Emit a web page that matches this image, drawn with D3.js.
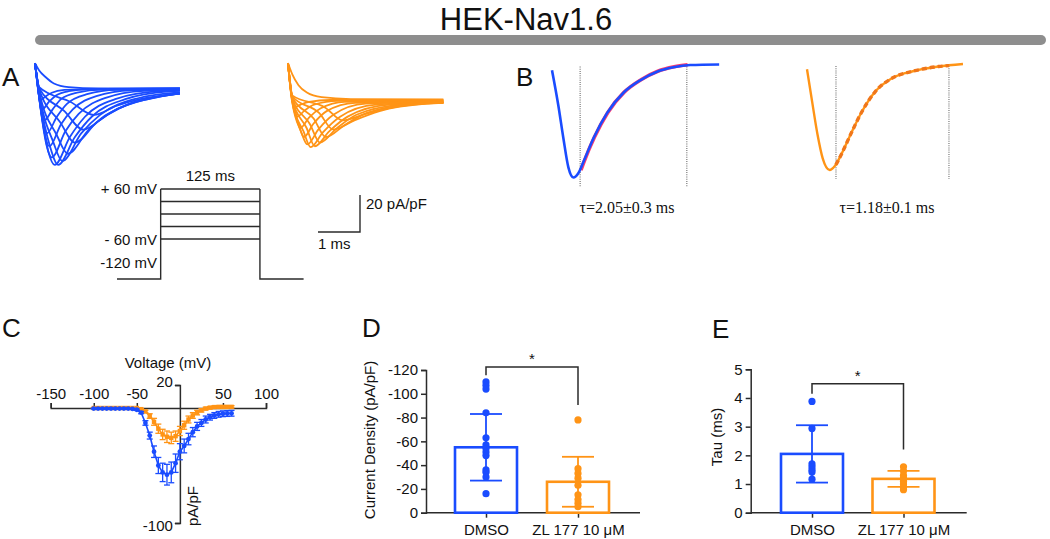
<!DOCTYPE html>
<html>
<head>
<meta charset="utf-8">
<script src="https://cdn.jsdelivr.net/npm/d3@7/dist/d3.min.js"></script>
<style>
  body { margin: 0; background: #fff; }
  text { font-family: Arial, "Liberation Sans", sans-serif; fill: #111; }
</style>
</head>
<body>
<svg id="fig" width="1050" height="539"></svg>
<script>
var BLUE = '#1a4cff',
    ORANGE = '#ff9416',
    INK = '#2b2b2b';

// ---- A: current traces, [time (ms), current (pA/pF)] ----
var dmsoTraces = [
  [[0,14],[0.1,10],[0.25,6.5],[0.45,3],[0.8,1],[1.5,0.3],[3.45,0.2]],
  [[0,14],[0.05,4],[0.09,-3],[0.12,-6],[0.25,-4],[0.4,-2],[0.7,-0.5],[1.3,0],[3.45,0.5]],
  [[0,14],[0.06,3],[0.12,-7],[0.17,-11],[0.33,-7],[0.5,-3.5],[0.8,-1.2],[1.3,-0.2],[3.45,0.3]],
  [[0,14],[0.07,1],[0.15,-12],[0.22,-17],[0.42,-11],[0.62,-5.5],[1.0,-2],[1.6,-0.3],[3.45,0]],
  [[0,14],[0.08,-1],[0.19,-18],[0.28,-24],[0.52,-15],[0.76,-8],[1.24,-2.8],[1.95,-0.5],[3.45,-0.2]],
  [[0,14],[0.09,-3],[0.23,-24],[0.34,-31],[0.62,-19],[0.9,-11],[1.46,-3.8],[2.3,-0.7],[3.45,-0.3]],
  [[0,14],[0.1,-5],[0.27,-30],[0.4,-37],[0.72,-23],[1.04,-13.5],[1.68,-4.8],[2.6,-1],[3.45,-0.5]],
  [[0,14],[0.1,-4],[0.32,-34],[0.47,-41],[0.83,-26],[1.19,-15],[1.91,-5.5],[2.95,-1.2],[3.45,-0.8]],
  [[0,14],[0.1,-3],[0.37,-32],[0.55,-41],[0.95,-26],[1.35,-15],[2.15,-5.5],[3.2,-1.3],[3.45,-1]],
  [[0,14],[0.1,-2],[0.44,-29],[0.65,-39],[1.1,-24],[1.55,-14],[2.45,-5],[3.45,-1.8]],
  [[0,14],[0.1,-1],[0.52,-25],[0.78,-35],[1.28,-22],[1.78,-13],[2.78,-5],[3.45,-2.3]],
  [[0,14],[0.1,0],[0.6,-18],[0.95,-29],[1.47,-18],[2.0,-10.5],[3.0,-4],[3.45,-2.5]],
  [[0,14],[0.1,0.5],[0.7,-12],[1.15,-22],[1.7,-14],[2.25,-8],[3.1,-3.5],[3.45,-2.5]],
  [[0,14],[0.1,1],[0.85,-7],[1.4,-14],[1.95,-9],[2.5,-5.5],[3.45,-2.5]]
];

var zlTraces = [
  [[0,20],[0.1,14],[0.25,8],[0.45,4],[0.8,1.5],[1.5,0.5],[3.7,0.3]],
  [[0,20],[0.07,6],[0.12,-2],[0.15,-4],[0.3,-2.5],[0.5,-1],[1.0,0],[3.7,0]],
  [[0,20],[0.08,4],[0.16,-5],[0.22,-9],[0.38,-6],[0.62,-2.5],[1.2,-0.5],[3.7,-0.3]],
  [[0,20],[0.09,2],[0.21,-10],[0.3,-15],[0.5,-9.5],[0.78,-4.5],[1.35,-1],[3.7,-0.5]],
  [[0,20],[0.1,0],[0.26,-14],[0.38,-20],[0.6,-13],[0.92,-6],[1.6,-1.5],[3.7,-0.8]],
  [[0,20],[0.1,-1],[0.31,-17],[0.46,-24],[0.72,-16],[1.08,-8],[1.85,-2],[3.7,-1]],
  [[0,20],[0.1,-1],[0.37,-17],[0.54,-25.5],[0.83,-17.5],[1.24,-9],[2.1,-2.5],[3.7,-1.2]],
  [[0,20],[0.1,0],[0.44,-15],[0.64,-25],[0.98,-17],[1.42,-9],[2.4,-2.5],[3.7,-1.4]],
  [[0,20],[0.1,1],[0.52,-13],[0.76,-23],[1.15,-15.5],[1.63,-8],[2.7,-2.5],[3.7,-1.5]],
  [[0,20],[0.1,1.5],[0.61,-10],[0.9,-20],[1.35,-13.5],[1.88,-7],[3.0,-2.2],[3.7,-1.6]],
  [[0,20],[0.1,2],[0.74,-7],[1.08,-16],[1.58,-11],[2.18,-6],[3.3,-2],[3.7,-1.5]],
  [[0,20],[0.1,2.5],[0.88,-4],[1.3,-11],[1.85,-7.5],[2.5,-4],[3.5,-1.5],[3.7,-1.2]]
];

// voltage protocol (mV, ms)
var holdingMv = -120;
var stepLevels = [60, 30, 0, -30, -60];
var stepWindow = [0, 125];
var protocolRange = [-55, 180];

// ---- B: single trace + exponential fit, [time (ms), normalised current] ----
var dmsoDecay = [[0,-0.05],[0.15,-0.36],[0.27,-0.65],[0.39,-0.91],[0.51,-1],[0.63,-0.96],[0.75,-0.86],
  [0.99,-0.65],[1.31,-0.43],[1.7,-0.25],[2.1,-0.14],[2.5,-0.064],[2.89,-0.025],[3.29,-0.005],[3.98,0]];
var dmsoFit = [[0.67,-0.94],[0.75,-0.86],[0.99,-0.65],[1.31,-0.43],[1.7,-0.25],[2.1,-0.14],[2.5,-0.065],[2.89,-0.026],[3.21,-0.008]];
var dmsoFitWindow = [0.67, 3.21];
var zlDecay = [[0,-0.05],[0.124,-0.36],[0.248,-0.66],[0.374,-0.89],[0.54,-1],[0.667,-0.96],[0.833,-0.84],
  [1.043,-0.66],[1.293,-0.46],[1.626,-0.26],[2.043,-0.13],[2.545,-0.066],[3.129,-0.024],[3.714,0]];
var zlFit = [[0.69,-0.95],[0.833,-0.84],[1.043,-0.66],[1.293,-0.46],[1.626,-0.26],[2.043,-0.13],[2.545,-0.066],[3.129,-0.024],[3.38,-0.015]];
var zlFitWindow = [0.69, 3.38];
var tauLabels = ['\u03c4=2.05\u00b10.3 ms', '\u03c4=1.18\u00b10.1 ms'];

// ---- C: I-V relation ----
var ivVoltage = [-100,-95,-90,-85,-80,-75,-70,-65,-60,-55,-50,-45,-40,-35,-30,-25,-20,-15,-10,-5,
  0,5,10,15,20,25,30,35,40,45,50,55,60];
var ivDmso = [-0.5,-0.5,-0.5,-0.5,-0.5,-0.5,-0.5,-0.5,-0.5,-0.8,-1.5,-4,-13,-24,-38,-50,-56,-58,-56,-48,
  -38,-33,-27,-21,-16,-13,-10,-8,-6.5,-5.5,-5,-4.8,-4.6];
var ivDmsoErr = [0.3,0.3,0.3,0.3,0.3,0.3,0.3,0.3,0.3,0.4,0.6,1,2,3,5,7,8,9,9,8,
  7,6,5,4,3.5,3,3,2.5,2.5,2.5,2.5,2.5,2.5];
var ivZl = [0,0,0,0,0,0,0,0,0,0,0,-1,-3,-7,-12,-18,-23,-25,-26,-24.5,
  -20,-15,-10,-6.5,-4,-2,-0.5,0.3,0.8,1,1,1,1];
var ivZlErr = [0.3,0.3,0.3,0.3,0.3,0.3,0.3,0.3,0.3,0.3,0.3,0.5,1,2,3,4,4.5,5,5,4.5,
  4,3.5,3,2.5,2,1.5,1.2,1,1,1,1,1,1];

// ---- D / E: group summaries ----
var groups = ['DMSO', 'ZL 177 10 \u03bcM'];
var densityMean = [-55, -26];
var densitySd = [28, 21];
var densityDmso = [-110, -107, -104, -84, -63, -57, -54, -51, -48, -36, -34, -30, -16];
var densityZl = [-78, -37, -33, -29, -23, -15, -11, -8, -5];
var tauMean = [2.05, 1.18];
var tauSd = [1.0, 0.28];
var tauDmso = [3.88, 2.94, 1.7, 1.6, 1.5, 1.42, 1.17];
var tauZl = [1.6, 1.45, 1.3, 1.2, 1.1, 1.0, 0.9, 0.8];


var svg = d3.select('#fig');

function label(g, x, y, txt, size, anchor) {
  return g.append('text')
    .attr('x', x).attr('y', y)
    .attr('font-size', size)
    .attr('text-anchor', anchor || 'start')
    .text(txt);
}


function drawHeader() {
  label(svg, 526, 30, 'HEK-Nav1.6', 31, 'middle');
  svg.append('rect')
    .attr('x', 35).attr('y', 35)
    .attr('width', 1011).attr('height', 10)
    .attr('rx', 5)
    .attr('fill', '#8e8e8e');

  label(svg, 2, 86, 'A', 26);
  label(svg, 516, 86, 'B', 26);
  label(svg, 2, 337, 'C', 26);
  label(svg, 362, 337, 'D', 26);
  label(svg, 712, 338, 'E', 26);
}


function drawTraces(traces, x0, y0, color, tEnd) {
  var x = d3.scaleLinear().domain([0, tEnd]).range([x0, x0 + tEnd * 42]),
      y = d3.scaleLinear().domain([0, -20]).range([y0, y0 + 37]);

  var line = d3.line()
    .x(function(d) { return x(d[0]); })
    .y(function(d) { return y(d[1]); })
    .curve(d3.curveMonotoneX);

  svg.append('g')
    .selectAll('path')
    .data(traces)
    .enter()
    .append('path')
    .attr('d', line)
    .attr('fill', 'none')
    .attr('stroke', color)
    .attr('stroke-width', 1.8);

  return { x: x, y: y };
}


function drawProtocol(sc) {
  var g = svg.append('g'),
      x = d3.scaleLinear().domain(protocolRange).range([117, 303.6]),
      y = d3.scaleLinear().domain([-120, -60, 60]).range([279, 239, 189]);

  g.selectAll('line.step')
    .data(stepLevels)
    .enter()
    .append('line')
    .attr('class', 'step')
    .attr('x1', x(stepWindow[0])).attr('x2', x(stepWindow[1]))
    .attr('y1', y).attr('y2', y);

  g.append('path')
    .attr('d', 'M' + x(protocolRange[0]) + ',' + y(holdingMv) +
      'H' + x(stepWindow[0]) + 'V' + y(stepLevels[0]) +
      'M' + x(stepWindow[1]) + ',' + y(stepLevels[0]) +
      'V' + y(holdingMv) + 'H' + x(protocolRange[1]))
    .attr('fill', 'none');

  g.selectAll('line, path')
    .attr('stroke', INK)
    .attr('stroke-width', 1.4);

  label(g, (x(stepWindow[0]) + x(stepWindow[1])) / 2, 181, (stepWindow[1] - stepWindow[0]) + ' ms', 15, 'middle');
  label(g, 157, y(60) + 5, '+ 60 mV', 15, 'end');
  label(g, 157, y(-60) + 6, '- 60 mV', 15, 'end');
  label(g, 157, 268, holdingMv + ' mV', 15, 'end');

  // scale bar, same units as the traces
  var bx = 360, by = 232,
      w = sc.x(1) - sc.x(0),
      h = sc.y(-20) - sc.y(0);
  g.append('path')
    .attr('d', 'M' + (bx - w) + ',' + by + 'H' + bx + 'V' + (by - h))
    .attr('fill', 'none')
    .attr('stroke', INK)
    .attr('stroke-width', 1.4);
  label(g, bx + 6, 209, '20 pA/pF', 15);
  label(g, bx - w, 249, '1 ms', 15);
}


function drawDecay(data, fit, win, x0, y0, depth, color, fitColor, fitDash, tauText, tauX) {
  var g = svg.append('g'),
      x = d3.scaleLinear().domain([0, 1]).range([x0, x0 + 42]),
      y = d3.scaleLinear().domain([0, -1]).range([y0, y0 + depth]);

  var line = d3.line()
    .x(function(d) { return x(d[0]); })
    .y(function(d) { return y(d[1]); })
    .curve(d3.curveMonotoneX);

  g.selectAll('line.win')
    .data(win)
    .enter()
    .append('line')
    .attr('class', 'win')
    .attr('x1', x).attr('x2', x)
    .attr('y1', y0 + 2).attr('y2', y0 + depth + 9)
    .attr('stroke', '#777')
    .attr('stroke-width', 1.2)
    .attr('stroke-dasharray', '1,1.2');

  if (fitDash) {
    g.append('path').attr('d', line(data))
      .attr('fill', 'none').attr('stroke', color).attr('stroke-width', 2.4);
    g.append('path').attr('d', line(fit))
      .attr('fill', 'none').attr('stroke', fitColor).attr('stroke-width', 3.4)
      .attr('stroke-dasharray', fitDash);
  } else {
    g.append('path').attr('d', line(fit))
      .attr('transform', 'translate(0.8,-0.6)')
      .attr('fill', 'none').attr('stroke', fitColor).attr('stroke-width', 3.6);
    g.append('path').attr('d', line(data))
      .attr('fill', 'none').attr('stroke', color).attr('stroke-width', 2.6);
  }

  g.append('text')
    .attr('x', tauX).attr('y', 213)
    .attr('text-anchor', 'middle')
    .attr('font-size', 16)
    .style('font-family', '"Liberation Serif", "DejaVu Serif", serif')
    .text(tauText);
}


function drawIV() {
  var g = svg.append('g'),
      x = d3.scaleLinear().domain([-150, 100]).range([50.7, 266]),
      y = d3.scaleLinear().domain([-100, 20]).range([523, 385]);

  var xAxis = d3.axisTop(x)
    .tickValues([-150, -100, -50, 50, 100])
    .tickSize(5)
    .tickPadding(4)
    .tickFormat(function(d) { return String(d); });
  var yAxis = d3.axisLeft(y)
    .tickValues([20, -100])
    .tickSize(5)
    .tickPadding(2)
    .tickFormat(function(d) { return String(d); });

  var gx = g.append('g').attr('transform', 'translate(0,' + y(0) + ')').call(xAxis);
  var gy = g.append('g').attr('transform', 'translate(' + x(0) + ',0)').call(yAxis);
  [gx, gy].forEach(function(a) {
    a.select('.domain').attr('stroke', INK).attr('stroke-width', 1.5);
    a.selectAll('.tick line').attr('stroke', INK).attr('stroke-width', 1.5);
    a.selectAll('.tick text').attr('font-size', 15).attr('fill', '#111')
      .style('font-family', 'Arial, "Liberation Sans", sans-serif');
  });
  gy.selectAll('.tick text').attr('dy', function(d) { return d === 20 ? '0.1em' : '0.5em'; });

  label(g, 168, 368, 'Voltage (mV)', 15, 'middle');
  g.append('text')
    .attr('transform', 'translate(198,506) rotate(-90)')
    .attr('text-anchor', 'middle')
    .attr('font-size', 15)
    .text('pA/pF');

  function series(vals, errs, color, square) {
    var pts = ivVoltage.map(function(v, i) { return { v: v, m: vals[i], e: errs[i] }; });
    var s = g.append('g');
    s.append('path')
      .attr('d', d3.line()
        .x(function(d) { return x(d.v); })
        .y(function(d) { return y(d.m); })(pts))
      .attr('fill', 'none').attr('stroke', color).attr('stroke-width', 1.6);
    var eb = s.selectAll('g.eb').data(pts).enter().append('g').attr('class', 'eb');
    eb.append('line')
      .attr('x1', function(d) { return x(d.v); }).attr('x2', function(d) { return x(d.v); })
      .attr('y1', function(d) { return y(d.m - d.e); }).attr('y2', function(d) { return y(d.m + d.e); });
    eb.append('line')
      .attr('x1', function(d) { return x(d.v) - 3; }).attr('x2', function(d) { return x(d.v) + 3; })
      .attr('y1', function(d) { return y(d.m - d.e); }).attr('y2', function(d) { return y(d.m - d.e); });
    eb.append('line')
      .attr('x1', function(d) { return x(d.v) - 3; }).attr('x2', function(d) { return x(d.v) + 3; })
      .attr('y1', function(d) { return y(d.m + d.e); }).attr('y2', function(d) { return y(d.m + d.e); });
    eb.selectAll('line').attr('stroke', color).attr('stroke-width', 1.3);
    if (square) {
      s.selectAll('rect').data(pts).enter().append('rect')
        .attr('x', function(d) { return x(d.v) - 2.2; })
        .attr('y', function(d) { return y(d.m) - 2.2; })
        .attr('width', 4.4).attr('height', 4.4)
        .attr('fill', color);
    } else {
      s.selectAll('circle').data(pts).enter().append('circle')
        .attr('cx', function(d) { return x(d.v); })
        .attr('cy', function(d) { return y(d.m); })
        .attr('r', 2.4)
        .attr('fill', color);
    }
  }

  series(ivZl, ivZlErr, ORANGE, true);
  series(ivDmso, ivDmsoErr, BLUE, false);
}


function drawBars(opt) {
  var g = svg.append('g'),
      x = d3.scalePoint().domain(groups).range(opt.xRange),
      y = d3.scaleLinear().domain(opt.domain).range([512.7, opt.yTop]);

  var yAxis = d3.axisLeft(y)
    .tickValues(opt.ticks)
    .tickSize(5)
    .tickPadding(3)
    .tickFormat(function(d) { return String(d); });
  var xAxis = d3.axisBottom(x).tickSize(5).tickPadding(7);

  var gy = g.append('g').attr('transform', 'translate(' + opt.axisX + ',0)').call(yAxis);
  var gx = g.append('g').attr('transform', 'translate(0,' + y(0) + ')').call(xAxis);
  gx.select('.domain').attr('d', 'M' + opt.axisX + ',0H' + opt.axisEnd);
  [gx, gy].forEach(function(a) {
    a.select('.domain').attr('stroke', INK).attr('stroke-width', 1.5);
    a.selectAll('.tick line').attr('stroke', INK).attr('stroke-width', 1.5);
    a.selectAll('.tick text').attr('font-size', 15).attr('fill', '#111')
      .style('font-family', 'Arial, "Liberation Sans", sans-serif');
  });

  g.append('text')
    .attr('transform', 'translate(' + opt.titleX + ',' + opt.titleY + ') rotate(-90)')
    .attr('text-anchor', 'middle')
    .attr('font-size', 15)
    .text(opt.title);

  var colors = [BLUE, ORANGE],
      bw = 62;

  g.selectAll('rect.bar')
    .data(groups)
    .enter()
    .append('rect')
    .attr('class', 'bar')
    .attr('x', function(d) { return x(d) - bw / 2; })
    .attr('width', bw)
    .attr('y', function(d, i) { return Math.min(y(opt.mean[i]), y(0)); })
    .attr('height', function(d, i) { return Math.abs(y(0) - y(opt.mean[i])); })
    .attr('fill', 'none')
    .attr('stroke', function(d, i) { return colors[i]; })
    .attr('stroke-width', 2.6);

  groups.forEach(function(name, i) {
    var cx = x(name),
        hi = y(opt.mean[i] + opt.sign * opt.sd[i]),
        lo = y(opt.mean[i] - opt.sign * opt.sd[i]),
        eg = g.append('g').attr('stroke', colors[i]).attr('stroke-width', 1.8);
    eg.append('line').attr('x1', cx).attr('x2', cx).attr('y1', hi).attr('y2', lo);
    eg.append('line').attr('x1', cx - 16).attr('x2', cx + 16).attr('y1', hi).attr('y2', hi);
    eg.append('line').attr('x1', cx - 16).attr('x2', cx + 16).attr('y1', lo).attr('y2', lo);

    g.selectAll(null)
      .data(opt.points[i])
      .enter()
      .append('circle')
      .attr('cx', cx)
      .attr('cy', y)
      .attr('r', 3.6)
      .attr('fill', colors[i]);
  });

  // significance bracket
  var b = opt.bracket;
  g.append('path')
    .attr('d', 'M' + x(groups[0]) + ',' + y(b[1]) + 'V' + y(b[0]) +
      'H' + x(groups[1]) + 'V' + y(b[2]))
    .attr('fill', 'none')
    .attr('stroke', INK)
    .attr('stroke-width', 1.5);
  label(g, (x(groups[0]) + x(groups[1])) / 2, y(b[0]) - 3, '*', 15, 'middle');
}


drawHeader();
var aScale = drawTraces(dmsoTraces, 35, 89, BLUE, 3.45);
drawTraces(zlTraces, 288, 100, ORANGE, 3.7);
drawProtocol(aScale);
drawDecay(dmsoDecay, dmsoFit, dmsoFitWindow, 552, 64.5, 113, BLUE, '#ff3a6e', null, tauLabels[0], 627);
drawDecay(zlDecay, zlFit, zlFitWindow, 807, 64, 106, ORANGE, '#f0761a', '5,3', tauLabels[1], 887);
drawIV();

drawBars({
  domain: [0, -120], yTop: 370, ticks: [0, -20, -40, -60, -80, -100, -120],
  xRange: [486, 578], axisX: 426, axisEnd: 640, sign: -1,
  mean: densityMean, sd: densitySd, points: [densityDmso, densityZl],
  title: 'Current Density (pA/pF)', titleX: 375, titleY: 440,
  bracket: [-122.5, -115.5, -90.5]
});

drawBars({
  domain: [0, 5], yTop: 369.3, ticks: [0, 1, 2, 3, 4, 5],
  xRange: [812, 903.5], axisX: 750.7, axisEnd: 966.7, sign: 1,
  mean: tauMean, sd: tauSd, points: [tauDmso, tauZl],
  title: 'Tau (ms)', titleX: 722, titleY: 437,
  bracket: [4.5, 4.15, 2.2]
});
</script>
</body>
</html>
